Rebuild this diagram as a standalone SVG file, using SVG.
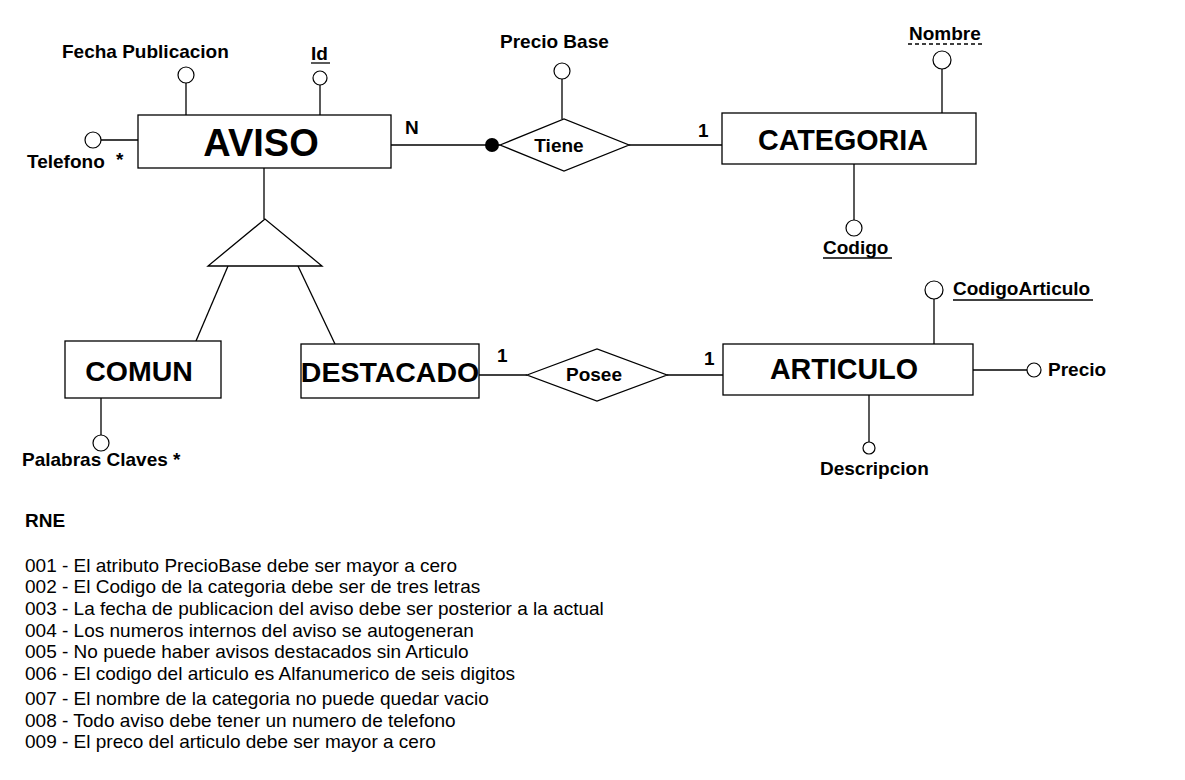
<svg xmlns="http://www.w3.org/2000/svg" width="1185" height="780" viewBox="0 0 1185 780">
<style>
.box{fill:#fff;stroke:#000;stroke-width:1.3}
.ln{stroke:#000;stroke-width:1.3;fill:none}
.at{fill:#fff;stroke:#000;stroke-width:1.2}
.ent{font-family:"Liberation Sans",Arial,sans-serif;font-weight:bold;fill:#000;text-anchor:middle}
.lbl{font-family:"Liberation Sans",Arial,sans-serif;font-weight:bold;font-size:19px;fill:#000}
.rne{font-family:"Liberation Sans",Arial,sans-serif;font-size:19px;fill:#000}
</style>
<rect width="1185" height="780" fill="#fff"/>
<g id="connectors">
<line class="ln" x1="186" y1="83" x2="186" y2="115"/>
<line class="ln" x1="320" y1="85" x2="320" y2="115"/>
<line class="ln" x1="101" y1="140" x2="138" y2="140"/>
<line class="ln" x1="391" y1="145" x2="500" y2="145"/>
<circle cx="492" cy="145" r="7" fill="#000"/>
<line class="ln" x1="629" y1="145" x2="722" y2="145"/>
<line class="ln" x1="562" y1="79" x2="562" y2="119"/>
<line class="ln" x1="942" y1="69" x2="942" y2="113"/>
<line class="ln" x1="854" y1="164" x2="854" y2="220"/>
<line class="ln" x1="264" y1="168" x2="264" y2="219"/>
<line class="ln" x1="228" y1="266" x2="196" y2="341"/>
<line class="ln" x1="298" y1="266" x2="335" y2="344"/>
<line class="ln" x1="101" y1="398" x2="101" y2="435"/>
<line class="ln" x1="479" y1="375" x2="527" y2="375"/>
<line class="ln" x1="667" y1="375" x2="723" y2="375"/>
<line class="ln" x1="934" y1="299" x2="934" y2="344"/>
<line class="ln" x1="973" y1="370" x2="1027" y2="370"/>
<line class="ln" x1="869" y1="395" x2="869" y2="442"/>
<text class="lbl" x="405" y="134" font-size="17">N</text>
<text class="lbl" x="698" y="137" font-size="17">1</text>
<text class="lbl" x="497" y="362" font-size="17">1</text>
<text class="lbl" x="704" y="365" font-size="17">1</text>
</g>
<g id="aviso">
<rect class="box" x="138" y="115" width="253" height="53"/>
<text class="ent" x="261" y="156" font-size="38">AVISO</text>
</g>
<g id="attr-fecha">
<circle class="at" cx="186" cy="75" r="8"/>
<text class="lbl" x="62" y="58">Fecha Publicacion</text>
</g>
<g id="attr-id">
<circle class="at" cx="320" cy="78" r="7"/>
<text class="lbl" x="311" y="60">Id</text>
<line class="ln" x1="311" y1="63" x2="330" y2="63"/>
</g>
<g id="attr-telefono">
<circle class="at" cx="93" cy="140" r="8"/>
<text class="lbl" x="27" y="168">Telefono</text>
<text class="lbl" x="116" y="166">*</text>
</g>
<g id="tiene">
<polygon class="box" points="500,145 564,119 629,145 564,171"/>
<text class="ent" x="559" y="152" font-size="19">Tiene</text>
</g>
<g id="attr-preciobase">
<circle class="at" cx="562" cy="71" r="8"/>
<text class="lbl" x="500" y="48">Precio Base</text>
</g>
<g id="categoria">
<rect class="box" x="722" y="113" width="254" height="51"/>
<text class="ent" x="843" y="150" font-size="28.7">CATEGORIA</text>
</g>
<g id="attr-nombre">
<circle class="at" cx="942" cy="60" r="9"/>
<text class="lbl" x="909" y="40">Nombre</text>
<line class="ln" x1="908" y1="44" x2="985" y2="44" stroke-dasharray="4,3"/>
</g>
<g id="attr-codigo">
<circle class="at" cx="854" cy="228" r="8"/>
<text class="lbl" x="823" y="254">Codigo</text>
<line class="ln" x1="823" y1="258" x2="892" y2="258"/>
</g>
<g id="isa">
<polygon class="box" points="265,219 208,266 322,266"/>
</g>
<g id="comun">
<rect class="box" x="65" y="341" width="156" height="57"/>
<text class="ent" x="139" y="381" font-size="28.5">COMUN</text>
</g>
<g id="attr-palabras">
<circle class="at" cx="101" cy="443" r="8"/>
<text class="lbl" x="22" y="466">Palabras Claves *</text>
</g>
<g id="destacado">
<rect class="box" x="301" y="344" width="178" height="54"/>
<text class="ent" x="390" y="382" font-size="28.5">DESTACADO</text>
</g>
<g id="posee">
<polygon class="box" points="527,375 597,349 667,375 597,401"/>
<text class="ent" x="594" y="381" font-size="19">Posee</text>
</g>
<g id="articulo">
<rect class="box" x="723" y="344" width="250" height="51"/>
<text class="ent" x="844" y="379" font-size="28.7">ARTICULO</text>
</g>
<g id="attr-codigoarticulo">
<circle class="at" cx="934" cy="290" r="9"/>
<text class="lbl" x="953" y="295">CodigoArticulo</text>
<line class="ln" x1="953" y1="300" x2="1093" y2="300"/>
</g>
<g id="attr-precio">
<circle class="at" cx="1034" cy="370" r="7"/>
<text class="lbl" x="1048" y="376">Precio</text>
</g>
<g id="attr-descripcion">
<circle class="at" cx="869" cy="448" r="6"/>
<text class="lbl" x="820" y="475">Descripcion</text>
</g>
<g id="rne">
<text class="lbl" x="25" y="527" font-size="16">RNE</text>
<text class="rne" x="25" y="572">001 - El atributo PrecioBase debe ser mayor a cero</text>
<text class="rne" x="25" y="593">002 - El Codigo de la categoria debe ser de tres letras</text>
<text class="rne" x="25" y="615">003 - La fecha de publicacion del aviso debe ser posterior a la actual</text>
<text class="rne" x="25" y="637">004 - Los numeros internos del aviso se autogeneran</text>
<text class="rne" x="25" y="658">005 - No puede haber avisos destacados sin Articulo</text>
<text class="rne" x="25" y="680">006 - El codigo del articulo es Alfanumerico de seis digitos</text>
<text class="rne" x="25" y="705">007 - El nombre de la categoria no puede quedar vacio</text>
<text class="rne" x="25" y="727">008 - Todo aviso debe tener un numero de telefono</text>
<text class="rne" x="25" y="748">009 - El preco del articulo debe ser mayor a cero</text>
</g>
</svg>
